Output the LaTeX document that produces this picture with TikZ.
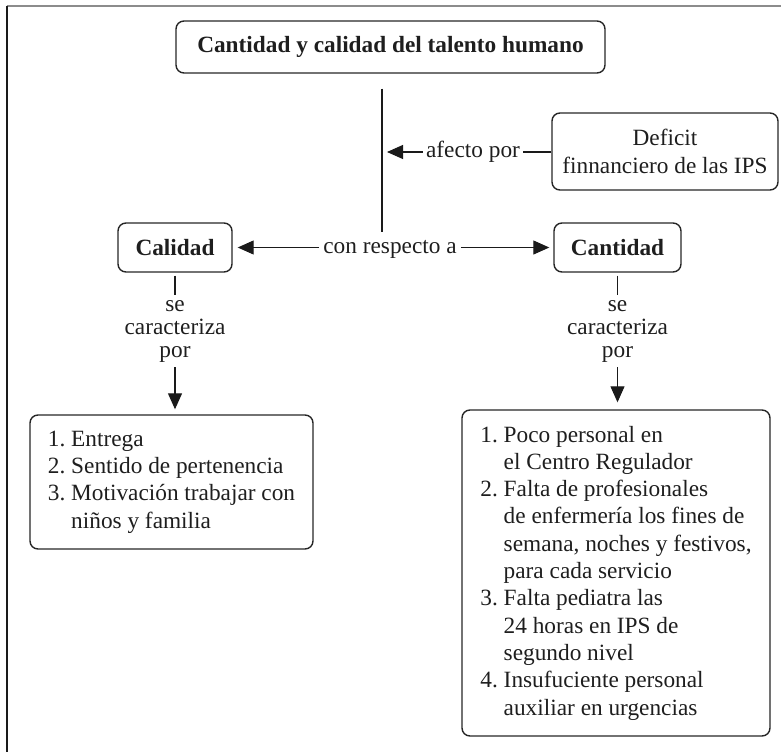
\documentclass[tikz,border=0pt]{standalone}
\usepackage{fontspec}
\setmainfont{Liberation Serif}
\usetikzlibrary{arrows.meta}
\definecolor{boxc}{HTML}{262626}
\definecolor{linec}{HTML}{1A1A1A}
\definecolor{framegray}{HTML}{8C8C8C}
\definecolor{txt}{HTML}{1E1E1E}
\begin{document}
\begin{tikzpicture}[x=1pt,y=-1pt,
  txtfont/.style={font=\fontsize{23.3}{27.3}\selectfont},
  box/.style={draw=boxc, line width=1.4pt, rounded corners=8pt, inner sep=0pt,
    align=center, text=txt, txtfont},
  boldbox/.style={box, font=\fontsize{23.3}{27.3}\selectfont\bfseries},
  listbox/.style={box, align=left},
  lbl/.style={inner xsep=3pt, inner ysep=3.5pt, text height=17.5pt,
    text depth=5.8pt, text=txt, txtfont},
  lblthree/.style={inner sep=2pt, align=center, text=txt,
    font=\fontsize{23.3}{23}\selectfont},
  conn/.style={line width=1.1pt, draw=linec},
  arr/.style={conn, -{Triangle[length=16pt,width=14pt]}},
]
\useasboundingbox (0,0) rectangle (781,752);

% frame
\draw[framegray, line width=2pt] (6.5,6.5) -- (781,6.5);
\draw[linec, line width=1.5pt] (7,6) -- (7,752);

% nodes
\node[boldbox, minimum width=429pt, minimum height=52pt] (title) at (390.5,47)
  {Cantidad y calidad del talento humano};
\node[box, minimum width=226pt, minimum height=77pt] (deficit) at (665,151.5)
  {Deficit\\finnanciero de las IPS};
\node[boldbox, minimum width=114pt, minimum height=49pt] (calidad) at (175,247.5) {Calidad};
\node[boldbox, minimum width=127pt, minimum height=49pt] (cantidad) at (617.5,247.5) {Cantidad};
\node[lbl] (afecto) at (473,152) {afecto por};
\node[lbl, inner xsep=4pt] (conres) at (390,247.5) {con respecto a};
\node[lblthree, anchor=north] (secal) at (175,298) {se\\caracteriza\\por};
\node[lblthree, anchor=north] (secan) at (617.5,298) {se\\caracteriza\\por};
\node[listbox, minimum width=283pt, minimum height=134pt] (leftlist) at (171.5,482)
  {1.~Entrega\\
   2.~Sentido de pertenencia\\
   3.~Motivación trabajar con\\
   \hphantom{3.~}niños y familia};
\node[listbox, minimum width=308pt, minimum height=326pt] (rightlist) at (616,573)
  {1.~Poco personal en\\
   \hphantom{1.~}el Centro Regulador\\
   2.~Falta de profesionales\\
   \hphantom{2.~}de enfermería los fines de\\
   \hphantom{2.~}semana, noches y festivos,\\
   \hphantom{2.~}para cada servicio\\
   3.~Falta pediatra las\\
   \hphantom{3.~}24 horas en IPS de\\
   \hphantom{3.~}segundo nivel\\
   4.~Insufuciente personal\\
   \hphantom{4.~}auxiliar en urgencias};

% coordinates
\coordinate (vx) at (382,0);
\coordinate (atip) at (387,152);

% connectors
\draw[conn] (title.south -| vx) ++(0,15) -- (conres.north -| vx);
\draw[conn] (afecto.east -| deficit.west) -- (afecto.east);
\draw[arr] (afecto.west) -- (atip);
\draw[arr, shorten >=5pt] (conres.west) -- (calidad.east);
\draw[arr, shorten >=4pt] (conres.east) -- (cantidad.west);
\draw[conn, shorten <=3pt, shorten >=3pt] (calidad) -- (secal);
\draw[conn, shorten <=3pt, shorten >=3pt] (cantidad) -- (secan);
\draw[arr, shorten <=3pt, shorten >=5pt] (secal.south) -- (secal.south |- leftlist.north);
\draw[arr, shorten <=3pt, shorten >=7pt] (secan.south) -- (secan.south |- rightlist.north);
\end{tikzpicture}
\end{document}
